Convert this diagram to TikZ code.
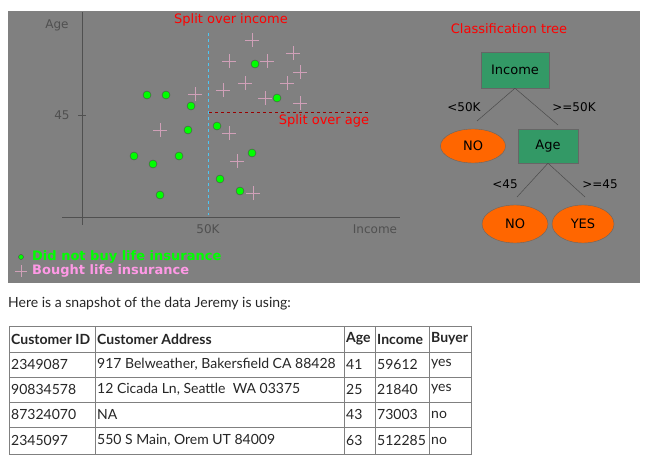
\documentclass[tikz,border=0pt]{standalone}
\usepackage{fontspec}
\setmainfont{Lato}
\newfontfamily\tah{DejaVu Sans}
\usetikzlibrary{shapes.geometric}
\definecolor{bg}{HTML}{808080}
\definecolor{tgreen}{HTML}{339966}
\definecolor{tor}{HTML}{FF6600}
\definecolor{dotg}{HTML}{00FF00}
\definecolor{pk}{HTML}{D0A0B8}
\definecolor{lpk}{HTML}{FF99E6}
\definecolor{axc}{HTML}{505050}
\definecolor{tline}{HTML}{808080}
\begin{document}
\begin{tikzpicture}[x=1pt,y=-1pt,
  dot/.style={circle,fill=dotg,draw=black!70,line width=0.4pt,inner sep=0pt,minimum width=8pt,minimum height=7pt},
  pl/.style={pk,line width=0.45pt},
  ax/.style={font=\tah\fontsize{12}{14}\selectfont,text=axc},
  red/.style={font=\tah\fontsize{13}{15}\selectfont,text=red},
  box/.style={draw=black!60,fill=tgreen,minimum width=68pt,minimum height=36pt,font=\tah\fontsize{13}{15}\selectfont},
  ell/.style={ellipse,draw=black!60,fill=tor,minimum width=65pt,minimum height=34pt,font=\tah\fontsize{13}{15}\selectfont},
  el/.style={font=\tah\fontsize{12}{14}\selectfont},
  edge/.style={black!70,line width=0.5pt},
  cell/.style={anchor=west,font=\fontsize{14}{15}\selectfont,text=black!85,inner sep=2pt},
  hcell/.style={cell,font=\bfseries\fontsize{14}{15}\selectfont}]
\useasboundingbox (0,0) rectangle (653,463);
\fill[white] (0,0) rectangle (653,463);
\fill[bg] (8,11) rectangle (640,283);
% axes
\draw[axc,line width=0.5pt] (82,12) -- (82,225);
\draw[axc,line width=0.5pt] (62,217) -- (400,217);
\draw[axc] (78,115) -- (86,115);
\node[ax] (age) at (57,25) {Age};
\node[ax] (f45) at (62,115) {45};
\node[ax] (k50) at (208,229) {50K};
\node[ax] (inc) at (375,229) {Income};
\draw[cyan!70,dashed,line width=0.6pt] (208,33) -- (208,215);
\draw[red!60!black,dashed,line width=0.6pt] (209,112) -- (370,112);
\node[red] (soi) at (231,20) {Split over income};
\node[red] (soa) at (324,121) {Split over age};
% plus signs
\foreach \x/\y in {252/40,229/61,267/61,293/53,300/72,245/83,223/90,195/94,287/83,265/98,300/103,160/130,229/133,237/161,253/193}
  {\draw[pl] (\x-7,\y) -- (\x+7,\y) (\x,\y-7) -- (\x,\y+7);}
% dots
\foreach \x/\y [count=\i] in {147/95,166/95,191/106,188/130,134/156,153/164,179/156,160/195,217/126,220/179,240/191,252/153,255/64,277/98}
  {\node[dot] (d\i) at (\x,\y) {};}
% legend
\node[dot,minimum width=5pt,minimum height=4pt] (ld) at (21,257) {};
\node[anchor=west,inner sep=0pt,text=dotg,font=\tah\bfseries\fontsize{13}{14}\selectfont] (lt1) at (32,257) {Did not buy life insurance};
\draw[pl] (15,271) -- (27,271) (21,265) -- (21,277);
\node[anchor=west,inner sep=0pt,text=lpk,font=\tah\bfseries\fontsize{13}{14}\selectfont] (lt2) at (32,271) {Bought life insurance};
% tree
\node[red] (ct) at (509,29) {Classification tree};
\node[box] (income) at (515,70) {Income};
\node[ell] (no1) at (473,146) {NO};
\node[box,minimum width=60pt,minimum height=34pt] (agen) at (548,146) {Age};
\node[ell,minimum width=66pt,minimum height=38pt] (no2) at (515,224) {NO};
\node[ell,minimum width=62pt,minimum height=38pt] (yes) at (583,224) {YES};
\coordinate (e1) at (477,121);
\coordinate (e2) at (558,125);
\coordinate (e3) at (517,197);
\coordinate (e4) at (585,197);
\draw[edge] (income.south) -- (e1);
\draw[edge] (income.south) -- (e2);
\draw[edge] (agen.south) -- (e3);
\draw[edge] (agen.south) -- (e4);
\node[el] (l1) at (464,107) {<50K};
\node[el] (l2) at (574,107) {>=50K};
\node[el] (l3) at (505,184) {<45};
\node[el] (l4) at (600,184) {>=45};
% text
\node[anchor=west,inner sep=0pt,font=\fontsize{14}{15}\selectfont,text=black!85] (snap) at (8,304) {Here is a snapshot of the data Jeremy is using:};
% table
\draw[tline,line width=0.8pt] (9,326) rectangle (471,454);
\foreach \y in {352,377,402,427} \draw[tline,line width=0.8pt] (9,\y) -- (471,\y);
\foreach \x in {95,344,375,429} \draw[tline,line width=0.8pt] (\x,326) -- (\x,454);
\node[hcell] (h1) at (9,339) {Customer ID};
\node[hcell] (h2) at (95,339) {Customer Address};
\node[hcell] (h3) at (344,339) {Age};
\node[hcell] (h4) at (375,339) {Income};
\node[hcell] (h5) at (429,339) {Buyer};
\foreach \y/\a/\b/\c/\d/\e [count=\r] in {
  364.5/2349087/{917 Belweather, Bakersfield CA 88428}/41/59612/yes,
  389.5/90834578/{12 Cicada Ln, Seattle\ \ WA 03375}/25/21840/yes,
  414.5/87324070/NA/43/73003/no,
  440.5/2345097/{550 S Main, Orem UT 84009}/63/512285/no}{
  \node[cell] (r\r a) at (9,\y) {\a};
  \node[cell] (r\r b) at (95,\y) {\b};
  \node[cell] (r\r c) at (344,\y) {\c};
  \node[cell] (r\r d) at (375,\y) {\d};
  \node[cell] (r\r e) at (429,\y) {\e};
}
\end{tikzpicture}
\end{document}
